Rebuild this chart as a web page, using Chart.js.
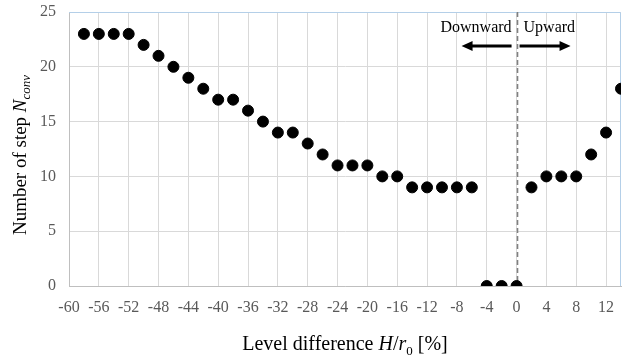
<!DOCTYPE html>
<html lang="en">
<head>
  <meta charset="UTF-8" />
  <title>Number of step vs level difference</title>
  <script src="https://cdn.jsdelivr.net/npm/chart.js"></script>
  <style>
    html, body { margin: 0; padding: 0; background: #fff; }
    #wrap { width: 631px; height: 358px; }
  </style>
</head>
<body>
  <div id="wrap"><canvas id="chart" width="631" height="358"></canvas></div>
  <script>
    // level difference H/r0 [%]
    const levelDiff = [-58, -56, -54, -52, -50, -48, -46, -44, -42, -40, -38, -36, -34, -32, -30,
      -28, -26, -24, -22, -20, -18, -16, -14, -12, -10, -8, -6, -4, -2, 0, 2, 4, 6, 8, 10, 12, 14];
    // number of step N_conv
    const nConv = [23, 23, 23, 23, 22, 21, 20, 19, 18, 17, 17, 16, 15, 14, 14,
      13, 12, 11, 11, 11, 10, 10, 9, 9, 9, 9, 9, 0, 0, 0, 9, 10, 10, 10, 12, 14, 18];

    const xMin = -60, xMax = 14, xStep = 4;
    const yMin = 0, yMax = 25, yStep = 5;

    const SERIF = '"Liberation Serif", "Times New Roman", serif';

    // dashed line at 0, arrows, titles with subscripts
    const decor = {
      id: 'decor',
      beforeDatasetsDraw(chart) {
        const { ctx, chartArea: a, scales: { x } } = chart;
        ctx.save();
        // top / right plot border
        ctx.strokeStyle = '#b4cfe8';
        ctx.lineWidth = 1;
        ctx.beginPath();
        ctx.moveTo(a.left, a.top + 0.5);
        ctx.lineTo(a.right - 0.5, a.top + 0.5);
        ctx.lineTo(a.right - 0.5, a.bottom);
        ctx.stroke();
        // dashed divider at zero
        const x0 = Math.round(x.getPixelForValue(0)) + 0.5;
        ctx.strokeStyle = '#808080';
        ctx.lineWidth = 1.6;
        ctx.setLineDash([5, 3]);
        ctx.beginPath();
        ctx.moveTo(x0, a.top);
        ctx.lineTo(x0, a.bottom);
        ctx.stroke();
        ctx.setLineDash([]);
        ctx.restore();
      },
      afterDatasetsDraw(chart) {
        const { ctx, chartArea: a, scales: { x, y } } = chart;
        const x0 = x.getPixelForValue(0);
        const ay = y.getPixelForValue(21.9);
        ctx.save();
        ctx.fillStyle = '#000';
        ctx.strokeStyle = '#000';
        // arrows
        const arrow = (from, to) => {
          const dir = Math.sign(to - from);
          ctx.lineWidth = 3;
          ctx.beginPath();
          ctx.moveTo(from, ay);
          ctx.lineTo(to - dir * 8, ay);
          ctx.stroke();
          ctx.beginPath();
          ctx.moveTo(to, ay);
          ctx.lineTo(to - dir * 11, ay - 5);
          ctx.lineTo(to - dir * 11, ay + 5);
          ctx.closePath();
          ctx.fill();
        };
        arrow(x0 - 5, x0 - 55);
        arrow(x0 + 3, x0 + 54);
        // labels
        ctx.font = '16px ' + SERIF;
        ctx.textBaseline = 'alphabetic';
        ctx.textAlign = 'right';
        ctx.fillText('Downward', x0 - 5, a.top + 20);
        ctx.textAlign = 'left';
        ctx.fillText('Upward', x0 + 7, a.top + 20);

        // x title: Level difference H/r0 [%]
        const big = '20px ' + SERIF, it = 'italic 20px ' + SERIF, sub = '13px ' + SERIF;
        const parts = [
          ['Level difference ', big, 0], ['H', it, 0], ['/', big, 0], ['r', it, 0],
          ['0', sub, 5], [' [%]', big, 0]
        ];
        let w = 0;
        parts.forEach(p => { ctx.font = p[1]; w += ctx.measureText(p[0]).width; });
        let px = 345 - w / 2;
        const py = 350;
        ctx.textAlign = 'left';
        parts.forEach(p => {
          ctx.font = p[1];
          ctx.fillText(p[0], px, py + p[2]);
          px += ctx.measureText(p[0]).width;
        });

        // y title: Number of step N_conv
        const yBig = '19px ' + SERIF;
        const yParts = [['Number of step ', yBig, 0], ['N', 'italic 19px ' + SERIF, 0], ['conv', 'italic 13px ' + SERIF, 4]];
        w = 0;
        yParts.forEach(p => { ctx.font = p[1]; w += ctx.measureText(p[0]).width; });
        ctx.translate(26, 155);
        ctx.rotate(-Math.PI / 2);
        px = -w / 2;
        yParts.forEach(p => {
          ctx.font = p[1];
          ctx.fillText(p[0], px, p[2]);
          px += ctx.measureText(p[0]).width;
        });
        ctx.restore();
      }
    };

    new Chart(document.getElementById('chart').getContext('2d'), {
      type: 'scatter',
      data: {
        datasets: [{
          data: levelDiff.map((v, i) => ({ x: v, y: nConv[i] })),
          backgroundColor: '#000',
          borderColor: '#000',
          pointRadius: 5.5,
          pointHoverRadius: 5.5
        }]
      },
      options: {
        responsive: false,
        animation: false,
        layout: { padding: { left: 0, right: 10, top: 12, bottom: 0 } },
        plugins: { legend: { display: false }, tooltip: { enabled: false } },
        scales: {
          x: {
            type: 'linear',
            min: xMin, max: xMax,
            afterFit(s) { s.height = 72; s.paddingLeft = 0; s.paddingRight = 0; },
            ticks: {
              stepSize: xStep, includeBounds: false, padding: 12,
              color: '#595959', font: { family: SERIF, size: 16 }
            },
            grid: { color: '#d9d9d9', drawTicks: false },
            border: { color: '#bfbfbf' }
          },
          y: {
            min: yMin, max: yMax,
            afterFit(s) { s.width = 69; s.paddingTop = 0; s.paddingBottom = 0; },
            ticks: {
              stepSize: yStep, padding: 13,
              color: '#595959', font: { family: SERIF, size: 16 }
            },
            grid: { color: '#d9d9d9', drawTicks: false },
            border: { color: '#bfbfbf' }
          }
        }
      },
      plugins: [decor]
    });
  </script>
</body>
</html>
